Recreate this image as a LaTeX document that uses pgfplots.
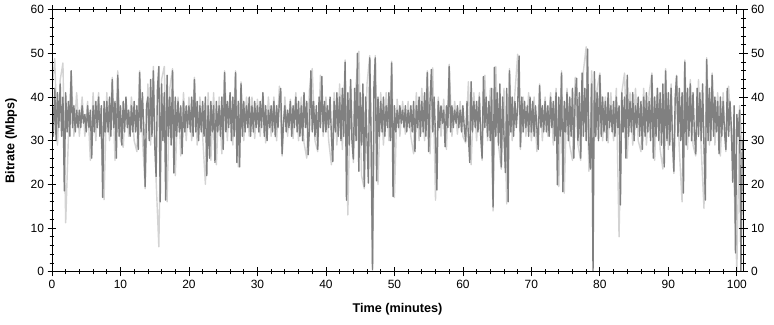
\documentclass[border=0pt]{standalone}
\usepackage{fontspec}
\setmainfont{Liberation Sans}
\usepackage{pgfplots}
\pgfplotsset{compat=1.18}
\definecolor{dk}{HTML}{808080}
\definecolor{lt}{HTML}{D3D3D3}
\begin{document}
\begin{tikzpicture}
\pgfplotsset{
 common/.style={
  scale only axis, width=691bp, height=262bp,
  xmin=0, xmax=100.9, ymin=0, ymax=60,
  xtick={0,10,...,100}, ytick={0,10,...,60},
  minor x tick num=4, minor y tick num=4,
  tick align=center,
  major tick length=9bp, minor tick length=5bp,
  tick style={black, line width=0.8bp},
  minor tick style={black, line width=0.7bp},
  axis line style={black, line width=0.8bp},
  tick label style={font=\fontsize{12}{14}\selectfont},
  /pgf/number format/assume math mode=true,
 }
}
\begin{axis}[common,
  ylabel={Bitrate (Mbps)}, xlabel={Time (minutes)},
  label style={font=\bfseries\fontsize{12.7}{14}\selectfont},
  ylabel style={at={(axis description cs:-0.0593,0.5)}, anchor=center},
  xlabel style={at={(axis description cs:0.5,-0.143)}, anchor=center}]
\addplot[lt, line width=1.4bp, line join=round] table[row sep=\\, header=false, x expr=\coordindex*0.4, y index=0]{
42\\48.8\\29\\44\\47.8\\11.2\\31\\46\\31\\41\\
31\\40\\31\\39\\25.5\\41\\30\\41\\30\\16.5\\
41\\30\\44.5\\25.5\\46\\30\\28.5\\40\\31\\40\\
30\\27.5\\46\\31\\19\\43\\29\\47\\21\\5.7\\
44\\47\\16\\42\\46.5\\22\\40\\26.5\\41\\30\\
40\\30\\44.5\\29\\40\\31\\20\\41\\25.5\\41\\
24.5\\40\\27\\46\\30\\41\\29\\46\\24\\43.5\\
30\\40\\31\\40\\30.5\\39.5\\31\\41\\29.5\\40\\
31\\40\\30\\42.5\\26.5\\40\\31\\39.5\\30.5\\41\\
30\\40\\29.5\\26\\42\\46.5\\30\\27.5\\45\\31\\
40\\30\\24.5\\41\\29\\43\\28\\48.5\\13\\44\\
25\\43\\50.5\\22\\19\\43\\49.5\\0\\49.5\\20\\
41\\29\\41\\30\\48.2\\17\\39.5\\31\\39\\31.5\\
39\\31\\27\\41\\30\\42\\30\\46\\27\\46.7\\
16.4\\40\\31\\39.5\\28\\47.5\\31\\39\\31.5\\39\\
31\\29.5\\43.5\\24.5\\41\\30\\41\\25.5\\45\\30\\
42\\13.9\\47\\29\\23.5\\42\\15.5\\46.5\\30\\41\\
49.8\\28\\40\\31\\41\\30\\40\\27.5\\43\\30\\
40\\31\\41\\29\\42\\19.5\\46\\18\\42\\29\\
25.5\\44.5\\29\\25.5\\46\\51.5\\23\\46\\30\\42\\
45.5\\30\\40\\29.5\\41\\30\\42\\8\\41\\45.5\\
26\\41\\29\\42\\30\\27.5\\42\\29\\41\\45.5\\
25.5\\42\\28\\23.5\\46.5\\28\\43\\22.5\\45\\28\\
16\\48.5\\28\\44\\29\\26.5\\44\\28\\14.5\\49\\
29\\45.5\\29\\41\\26.5\\41\\27.5\\42.5\\31\\20\\
0\\38\\29\\
};
\addplot[dk, line width=1.4bp, line join=round] table[row sep=\\, header=false, x expr=\coordindex*0.2, y index=0]{
40\\31\\42\\30\\41\\33\\43\\31\\40\\18.5\\
41\\32\\39\\31\\46\\33\\38\\32\\37\\33\\
37\\33\\38\\34\\36\\32\\38\\33\\37\\26\\
38\\32\\39\\33\\40\\31\\38\\17\\39\\32\\
39\\32\\40\\31\\44\\33\\39\\26\\45\\31\\
38\\29\\39\\32\\40\\33\\37\\31\\38\\32\\
39\\32\\38\\28\\45.6\\32\\41\\33\\19.5\\38\\
40\\30\\44\\31\\46\\29\\21.8\\42\\47\\16\\
43\\30\\41\\16.4\\45\\31\\40\\29\\46\\22.6\\
40\\31\\39\\32\\38\\27\\39\\32\\38\\33\\
38\\32\\40\\31\\44\\32\\39\\30\\38\\32\\
39\\31\\40\\22\\38\\26\\39\\32\\38\\25\\
39\\32\\38\\31\\40\\28\\45.6\\32\\39\\33\\
41\\30\\40\\31\\45.6\\25\\39\\24\\43\\31\\
39\\32\\38\\33\\40\\31\\38\\32\\39\\33\\
38\\32\\39\\33\\41\\31\\38\\30\\37\\33\\
38\\32\\39\\31\\38\\33\\39\\42\\27\\34\\
38\\32\\37\\33\\39\\31\\38\\33\\40\\32\\
39\\31\\38\\30\\41\\33\\39\\26.8\\33\\46\\
32\\39\\31\\38\\28\\40\\33\\44.7\\32\\39\\
32\\38\\33\\40\\31\\25.2\\39\\32\\41\\31\\
40\\30\\42\\31\\48\\16.4\\41\\29\\44\\30\\
25.8\\42\\30\\50\\23\\41\\29\\43\\19.5\\40\\
30\\20.3\\49\\31\\0.5\\42\\49\\20.8\\40\\31\\
39\\32\\40\\31\\38\\33\\41\\30\\47.8\\17.2\\
38\\32\\37\\33\\38\\34\\37\\33\\38\\32\\
37\\33\\38\\32\\39\\27.5\\38\\33\\40\\31\\
39\\32\\41\\31\\45.6\\27.5\\39\\46.3\\32\\40\\
31\\18.7\\39\\33\\38\\34\\37\\28.6\\38\\33\\
47\\32\\38\\33\\37\\34\\38\\33\\37\\32\\
38\\33\\29.9\\39\\31\\25\\43.5\\32\\39\\33\\
39\\32\\40\\31\\26\\44.7\\33\\40\\31\\39\\
30\\42\\14.8\\46.8\\31\\41\\29\\43\\24\\40\\
31\\22.7\\42\\16\\46\\32\\40\\31\\39\\33\\
38\\49.4\\28.6\\40\\32\\39\\33\\38\\31\\40\\
32\\39\\31\\38\\33\\28\\42.6\\33\\38\\32\\
39\\32\\38\\31\\40\\33\\39\\30\\41\\19.9\\
40\\31\\45.5\\18.3\\39\\32\\41\\30\\40\\31\\
42\\26\\40\\44.3\\30\\41\\26\\45.5\\31\\42\\
30\\51\\29\\23.5\\43\\0\\45.8\\31\\41\\30\\
45\\31\\40\\32\\39\\30\\41\\33\\38\\32\\
39\\31\\40\\33\\38\\15.3\\41\\32\\40\\26\\
45\\31\\39\\32\\41\\30\\38\\33\\40\\31\\
39\\28\\40\\31\\41\\32\\39\\30\\45\\26\\
40\\31\\42\\30\\41\\29\\43\\24\\46\\30\\
41\\29\\42\\30\\23\\40\\44.8\\31\\42\\30\\
41\\18\\48\\29\\42\\31\\43\\30\\41\\32\\
27\\42\\31\\41\\30\\43\\29\\16.4\\48.6\\30\\
42\\30\\45\\31\\40\\32\\39\\27\\40\\31\\
39\\32\\28\\42\\31\\39\\33\\20.5\\38\\4.3\\
36\\31\\37\\0\\30\\
};
\coordinate (sw) at (rel axis cs:0,0);
\end{axis}
\begin{axis}[common, yticklabel pos=right, xticklabels={}]
\end{axis}
\useasboundingbox ([shift={(-52bp,-53.3bp)}]sw) rectangle ++(774bp,325bp);
\end{tikzpicture}
\end{document}
